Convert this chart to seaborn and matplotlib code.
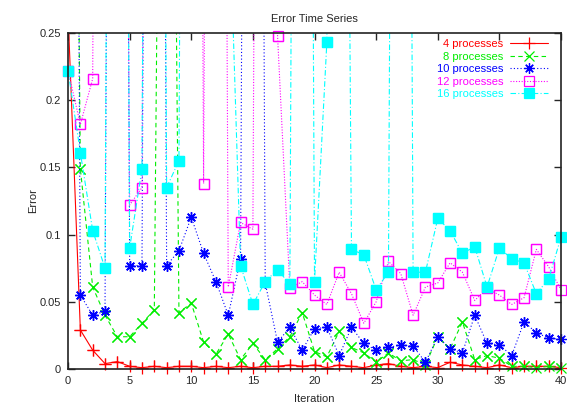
import matplotlib
matplotlib.use("Agg")
import matplotlib.pyplot as plt
import seaborn as sns
import numpy as np
from matplotlib.ticker import FuncFormatter

# iteration axis
iterations = list(range(41))

# error values per run (values far above 0.25 are spikes that leave the chart)
err_4 = [0.265, 0.029, 0.014, 0.004, 0.0055, 0.002, 0.001, 0.002, 0.001, 0.002,
         0.002, 0.001, 0.002, 0.001, 0.002, 0.001, 0.002, 0.002, 0.003, 0.002,
         0.003, 0.001, 0.003, 0.002, 0.001, 0.003, 0.004, 0.002, 0.001, 0.002,
         0.001, 0.005, 0.003, 0.002, 0.001, 0.003, 0.001, 0.002, 0.002, 0.002,
         0.001]
err_8 = [1.16, 0.149, 0.061, 0.040, 0.024, 0.024, 0.034, 0.044, 1.08, 0.042,
         0.049, 0.020, 0.011, 0.026, 0.007, 0.019, 0.007, 0.015, 0.024, 0.042,
         0.013, 0.009, 0.028, 0.016, 0.012, 0.005, 0.012, 0.006, 0.007, 0.003,
         0.024, 0.015, 0.035, 0.007, 0.010, 0.008, 0.002, 0.002, 0.001, 0.002,
         0.001]
err_10 = [1.8, 0.055, 0.040, 0.043, 2.0, 0.077, 0.077, 2.0, 0.077, 0.088,
          0.113, 0.086, 0.065, 0.040, 0.082, 2.0, 0.064, 0.020, 0.031, 0.014,
          0.030, 0.031, 0.010, 0.031, 0.019, 0.014, 0.016, 0.018, 0.017, 0.005,
          0.024, 0.015, 0.012, 0.040, 0.019, 0.018, 0.010, 0.035, 0.027, 0.023,
          0.022]
err_12 = [0.222, 0.182, 0.216, 2.0, 1.5, 0.122, 0.135, 2.0, 2.0, 2.0,
          2.0, 0.138, 2.0, 0.061, 0.109, 0.104, 2.0, 0.248, 0.060, 0.065,
          0.055, 0.048, 0.072, 0.056, 0.034, 0.050, 0.080, 0.071, 0.040, 0.061,
          0.064, 0.079, 0.072, 0.051, 0.060, 0.055, 0.048, 0.053, 0.089, 0.076,
          0.059]
err_16 = [0.222, 0.161, 0.103, 0.075, 2.0, 0.090, 0.149, 2.0, 0.135, 0.155,
          2.0, 2.0, 2.0, 0.37, 0.077, 0.048, 0.065, 0.074, 0.063, 2.0,
          0.065, 0.243, 1.33, 0.089, 0.085, 0.059, 0.072, 2.0, 0.072, 0.072,
          0.112, 0.103, 0.086, 0.091, 0.061, 0.090, 0.082, 0.079, 0.056, 0.067,
          0.098]

labels = ["4 processes", "8 processes", "10 processes", "12 processes", "16 processes"]
series = [err_4, err_8, err_10, err_12, err_16]

colors = ["#ff0000", "#00ee00", "#0000ff", "#ff00ff", "#00ffff"]
markers = ["+", "x", (8, 2, 0), "s", "s"]
msizes = [8, 7, 7.5, 6.5, 6.5]
dashes = ["-", (0, (4, 3)), (0, (1, 2)), (0, (1, 1.5)), (0, (5, 2, 1, 2))]
filled = [True, True, True, False, True]

sns.set_style("ticks")
plt.rcParams["font.family"] = ["Liberation Sans", "DejaVu Sans"]

fig = plt.figure(figsize=(5.67, 4.03), dpi=100)
ax = fig.add_axes([0.12, 0.0844, 0.8694, 0.8337])

for vals, lab, c, m, ms, ls, f in zip(series, labels, colors, markers, msizes, dashes, filled):
    fc = c if f else "none"
    # line (clipped to the plot box)
    sns.lineplot(x=iterations, y=vals, ax=ax, color=c, marker=m, markersize=ms,
                 linestyle=ls, linewidth=0.8, label=lab,
                 markeredgecolor=c, markeredgewidth=0.9, markerfacecolor=fc)
    # points inside the y-range drawn unclipped so edge markers overhang like gnuplot
    vis = np.where(np.array(vals) <= 0.25, vals, np.nan)
    ax.plot(iterations, vis, linestyle="none", marker=m, markersize=ms, color=c,
            markeredgecolor=c, markeredgewidth=0.9, markerfacecolor=fc, clip_on=False)

ax.set_xlim(0, 40)
ax.set_ylim(0, 0.25)
ax.set_xticks(range(0, 41, 5))
ax.set_yticks([0, 0.05, 0.1, 0.15, 0.2, 0.25])
ax.yaxis.set_major_formatter(FuncFormatter(lambda v, p: f"{v:g}"))
ax.tick_params(direction="in", length=5, width=1, labelsize=8,
               top=True, right=True, pad=5)
for s in ax.spines.values():
    s.set_linewidth(1.2)
    s.set_color("#222222")

ax.set_title("Error Time Series", fontsize=8, pad=8)
ax.set_xlabel("Iteration", fontsize=8, labelpad=6)
ax.set_ylabel("Error", fontsize=8, labelpad=1)

leg = ax.legend(loc="upper right", bbox_to_anchor=(0.978, 0.988), frameon=False,
                markerfirst=False, fontsize=8, handlelength=3.4, handletextpad=0.6,
                labelspacing=0.22, borderaxespad=0, borderpad=0.2)
for t, ln in zip(leg.get_texts(), leg.get_lines()):
    t.set_color(ln.get_color())

fig.savefig("out.png", dpi=100)
